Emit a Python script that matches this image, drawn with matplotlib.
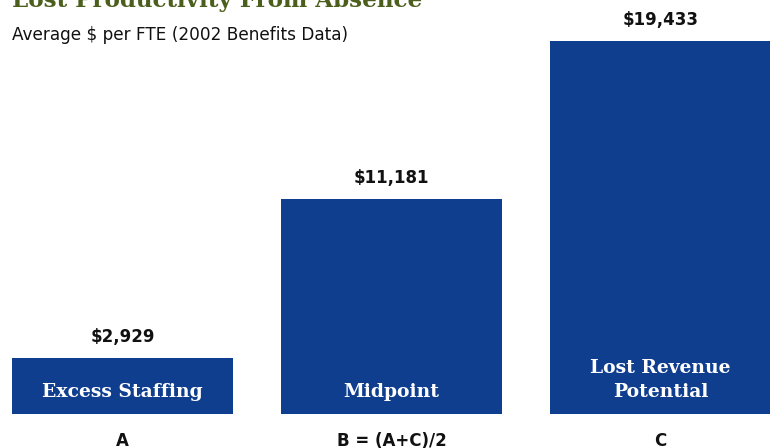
import matplotlib
matplotlib.use("Agg")
import matplotlib.pyplot as plt

# data
letters = ["A", "B = (A+C)/2", "C"]
names = ["Excess Staffing", "Midpoint", "Lost Revenue\nPotential"]
values = [2929, 11181, 19433]

bar_color = "#0f3e8f"
title_color = "#4b5e1c"

W, H = 770, 448
fig = plt.figure(figsize=(W / 100, H / 100), dpi=100)
ax = fig.add_axes([0, 0, 1, 1])

# pixel scale: tallest bar is ~373 px high, baseline 34 px above bottom edge
k = values[2] / 373
ax.set_xlim(-122.5 / 269, 2 + (W - 660.5) / 269)
ax.set_ylim(-34 * k, 414 * k)
ax.axis("off")

x = range(len(values))
ax.bar(x, values, width=221 / 269, color=bar_color, edgecolor="none")

for i, v in enumerate(values):
    ax.text(i, v + 21 * k, f"${v:,}", ha="center", va="center",
            fontsize=12, fontweight="bold", family="DejaVu Sans", color="#111111")
    # one-line labels sit lower than the two-line one, bottoms line up
    ax.text(i, 17 * k, names[i], ha="center", va="baseline", linespacing=1.45,
            fontsize=13.5, fontweight="bold", family="DejaVu Serif", color="white")
    ax.text(i, -27 * k, letters[i], ha="center", va="center",
            fontsize=12, fontweight="bold", family="DejaVu Sans", color="#111111")

fig.text(12 / W, 1 - 7 / H, "Lost Productivity From Absence", ha="left", va="baseline",
         fontsize=16.6, fontweight="bold", family="DejaVu Serif", color=title_color)
fig.text(12 / W, 1 - 35 / H, "Average $ per FTE (2002 Benefits Data)", ha="left", va="center",
         fontsize=12.2, family="DejaVu Sans", color="#111111")

fig.savefig("out.png", dpi=100)
